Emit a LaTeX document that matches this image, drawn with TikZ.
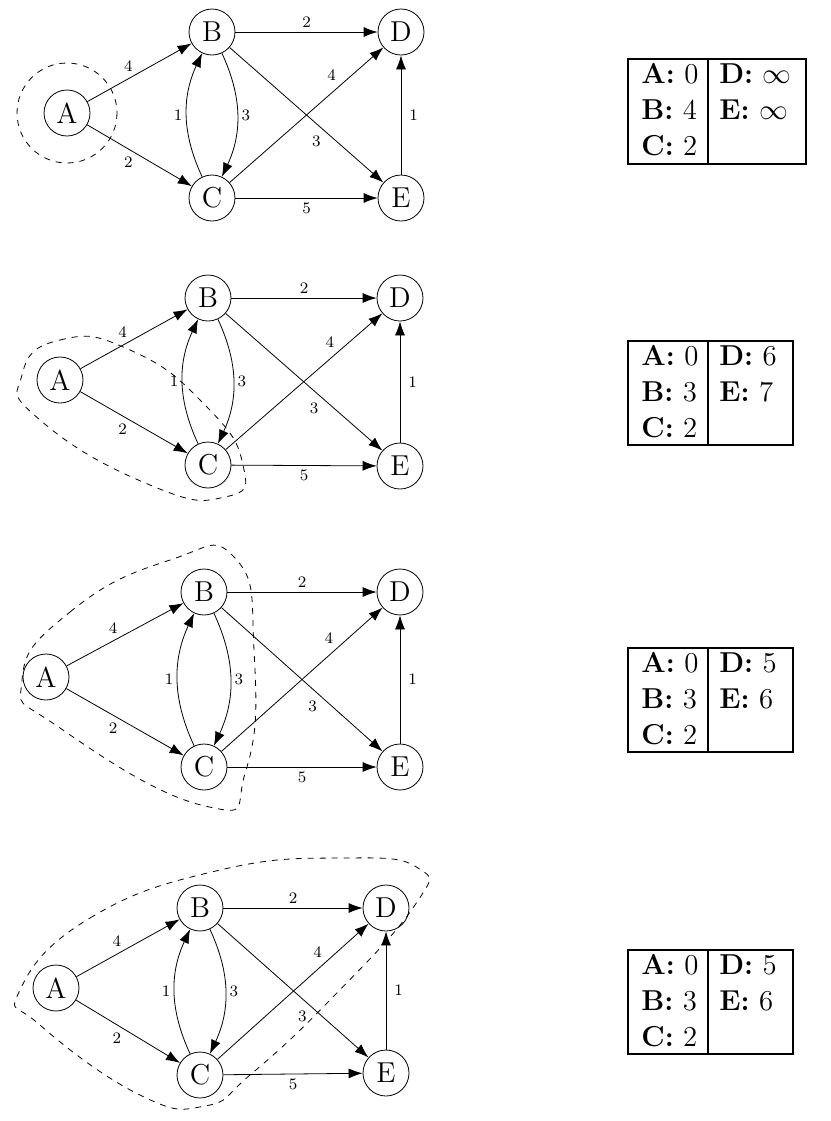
\documentclass[tikz,border=0pt]{standalone}
\usetikzlibrary{arrows.meta}
\tikzset{
  vert/.style={circle,draw,minimum size=23pt,inner sep=0pt,font=\Large},
  arr/.style={-{Latex[length=7pt,width=5pt]}},
  lab/.style={font=\footnotesize,inner sep=2pt},
  region/.style={dashed},
  tab/.style={line width=0.8pt},
  tabtxt/.style={anchor=north west,align=left,font=\Large,inner sep=0pt}
}
\newcommand\edgesof[1]{%
  \draw[arr] (#1A) -- node[lab,above,pos=0.45,xshift=-3pt] {4} (#1B);
  \draw[arr] (#1A) -- node[lab,below,pos=0.45,xshift=-3pt] {2} (#1C);
  \draw[arr] (#1B) -- node[lab,above] {2} (#1D);
  \draw[arr] (#1C) -- node[lab,below] {5} (#1E);
  \draw[arr] (#1B) -- node[lab,below left,pos=0.62] {3} (#1E);
  \draw[arr] (#1C) -- node[lab,above left,pos=0.72] {4} (#1D);
  \draw[arr] (#1E) -- node[lab,right,xshift=2pt] {1} (#1D);
  \draw[arr] (#1B) to[bend left=25] node[lab,right] {3} (#1C);
  \draw[arr] (#1C) to[bend left=25] node[lab,left] {1} (#1B);
}
\begin{document}
\begin{tikzpicture}[x=0.5pt,y=-0.5pt]
\useasboundingbox (0,0) rectangle (831,1121);
% panel 1
\node[vert] (pA) at (67,113) {A};
\node[vert] (pB) at (212,32) {B};
\node[vert] (pC) at (212,198) {C};
\node[vert] (pD) at (401,32) {D};
\node[vert] (pE) at (401,198) {E};
\edgesof{p}
\draw[region] (67,113) circle (50);
\draw[tab] (628,59) rectangle (806,164); \draw[tab] (708,59) -- (708,164);
\node[tabtxt] (t1a) at (641,63) {\textbf{A:} 0\\ \textbf{B:} 4\\ \textbf{C:} 2};
\node[tabtxt] (t1b) at (719,63) {\textbf{D:} $\infty$\\ \textbf{E:} $\infty$};
% panel 2
\node[vert] (qA) at (60,380) {A};
\node[vert] (qB) at (208,298) {B};
\node[vert] (qC) at (208,465) {C};
\node[vert] (qD) at (400,298) {D};
\node[vert] (qE) at (400,466) {E};
\edgesof{q}
\draw[region] plot[smooth cycle,tension=0.9] coordinates {(22,375) (60,340) (130,350) (205,405) (243,465) (225,497) (150,485) (40,420)};
\draw[tab] (628,341) rectangle (793,445); \draw[tab] (708,341) -- (708,445);
\node[tabtxt] (t2a) at (641,345) {\textbf{A:} 0\\ \textbf{B:} 3\\ \textbf{C:} 2};
\node[tabtxt] (t2b) at (719,345) {\textbf{D:} 6\\ \textbf{E:} 7};
% panel 3
\node[vert] (rA) at (46,677) {A};
\node[vert] (rB) at (204,592) {B};
\node[vert] (rC) at (204,767) {C};
\node[vert] (rD) at (400,592) {D};
\node[vert] (rE) at (400,767) {E};
\edgesof{r}
\draw[region] plot[smooth cycle,tension=0.9] coordinates {(22,680) (70,612) (170,560) (235,558) (254,650) (246,770) (205,806) (60,728)};
\draw[tab] (628,648) rectangle (793,752); \draw[tab] (708,648) -- (708,752);
\node[tabtxt] (t3a) at (641,652) {\textbf{A:} 0\\ \textbf{B:} 3\\ \textbf{C:} 2};
\node[tabtxt] (t3b) at (719,652) {\textbf{D:} 5\\ \textbf{E:} 6};
% panel 4
\node[vert] (sA) at (56,988) {A};
\node[vert] (sB) at (200,908) {B};
\node[vert] (sC) at (200,1075) {C};
\node[vert] (sD) at (386,908) {D};
\node[vert] (sE) at (386,1073) {E};
\edgesof{s}
\draw[region] plot[smooth cycle,tension=0.8] coordinates {(20,990) (90,918) (220,870) (345,858) (418,868) (415,905) (330,1000) (250,1075) (205,1106) (140,1095) (40,1025)};
\draw[tab] (628,950) rectangle (793,1054); \draw[tab] (708,950) -- (708,1054);
\node[tabtxt] (t4a) at (641,954) {\textbf{A:} 0\\ \textbf{B:} 3\\ \textbf{C:} 2};
\node[tabtxt] (t4b) at (719,954) {\textbf{D:} 5\\ \textbf{E:} 6};
\end{tikzpicture}
\end{document}
